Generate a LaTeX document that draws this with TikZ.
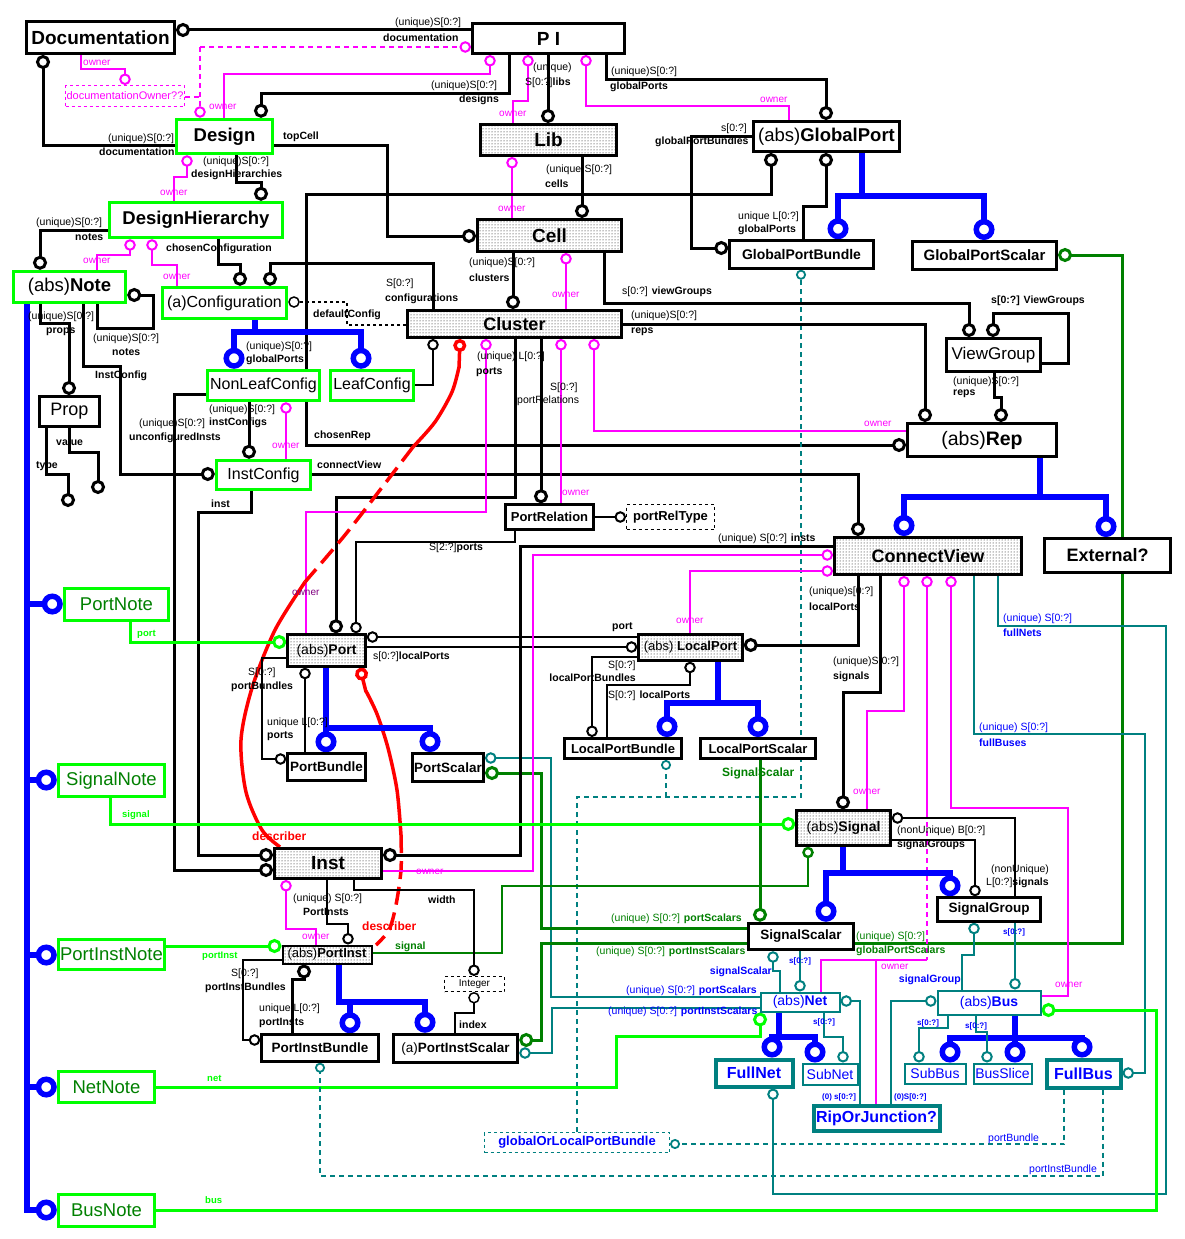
\documentclass[tikz,border=0pt]{standalone}
\usepackage{fontspec}
\setmainfont{Liberation Sans}
\usetikzlibrary{arrows.meta,patterns,backgrounds}
\definecolor{lgreen}{RGB}{0,255,0}
\definecolor{dgreen}{RGB}{0,128,0}
\definecolor{teal2}{RGB}{0,128,128}
\definecolor{purp}{RGB}{128,0,128}
\definecolor{mag}{RGB}{255,0,255}
\definecolor{blu}{RGB}{0,0,255}
\definecolor{rdd}{RGB}{255,0,0}
\def\fs#1{\fontsize{#1}{#1}\selectfont}
\newcommand\bx[7]{\node[#2,minimum width=#5pt-#3pt-3pt,minimum height=#6pt-#4pt-3pt] (#1) at ({(#3+#5)/2},{(#4+#6)/2}) {#7};}
\newcount\labn
\newcommand\lb[4][]{\global\advance\labn by 1 \node[lab,#1] (lb\the\labn) at (#2,#3) {#4};}
\tikzset{
 bxs/.style={draw,line width=3pt,inner sep=0pt,fill=white},
 gbx/.style={bxs,draw=lgreen,line width=3.5pt},
 dbx/.style={bxs,preaction={fill=white},pattern=dots},
 nbx/.style={gbx,text=dgreen,font=\fs{18.5}},
 tbx/.style={bxs,draw=teal2,line width=2pt,text=blu,font=\fs{14}},
 tbb/.style={bxs,draw=teal2,line width=4pt,text=blu,font=\bfseries\fs{16}},
 lab/.style={inner sep=0pt,anchor=west,font=\fs{10.5}},
 lbm/.style={text=mag,font=\fs{10}},
 lbb/.style={text=blu},
 lbd/.style={text=dgreen},
 lbg/.style={text=lgreen,font=\bfseries\fs{9.5}},
 lbr/.style={text=rdd,font=\bfseries\fs{12}},
 lbs/.style={text=blu,font=\bfseries\fs{8}},
 bk/.style={line width=3pt},
 bt/.style={line width=2pt},
 mg/.style={mag,line width=2pt},
 mgd/.style={mg,dash pattern=on 5pt off 4pt},
 lg/.style={lgreen,line width=3pt},
 dg/.style={dgreen,line width=3pt},
 tl/.style={teal2,line width=2pt},
 tld/.style={teal2,line width=1.2pt,dash pattern=on 5pt off 4pt},
 bl/.style={blu,line width=5.5pt},
 blr/.style={bl,line cap=rect},
 rd/.style={rdd,line width=3.5pt},
 ec/.style={-{Circle[open,length=14pt]}},
 es/.style={-{Circle[open,length=11.5pt]}},
 eb/.style={-{Circle[open,length=21pt]}},
 ts/.style={-{Circle[open,length=10pt,line width=1.8pt]}}
}
\begin{document}
\begin{tikzpicture}[x=1pt,y=-1pt,line join=miter]
\useasboundingbox (0,0) rectangle (1184,1239);
\bx{doc}{bxs,font=\bfseries\fs{19}}{25}{20}{176}{55}{Documentation}
\bx{pi}{bxs,font=\bfseries\fs{19}}{471}{22}{626}{55}{P I}
\bx{des}{gbx,font=\bfseries\fs{18.5}}{175}{118}{274}{155}{Design}
\bx{dh}{gbx,font=\bfseries\fs{18.5}}{108}{201}{284}{239}{DesignHierarchy}
\bx{note}{gbx,font=\fs{18.5}}{12}{270}{127}{304}{(abs)\textbf{Note}}
\bx{conf}{gbx,font=\fs{16}}{161}{286}{288}{320}{(a)Configuration}
\bx{lib}{dbx,font=\bfseries\fs{19}}{479}{123}{618}{157}{Lib}
\bx{cell}{dbx,font=\bfseries\fs{19}}{476}{218}{623}{253}{Cell}
\bx{clus}{dbx,font=\bfseries\fs{18}}{406}{309}{623}{339}{Cluster}
\bx{gp}{bxs,font=\fs{18.5}}{752}{120}{901}{153}{(abs)\textbf{GlobalPort}}
\bx{gpb}{bxs,line width=2.5pt,font=\bfseries\fs{14}}{728}{239}{875}{270}{GlobalPortBundle}
\bx{gps}{bxs,font=\bfseries\fs{15}}{911}{240}{1058}{271}{GlobalPortScalar}
\bx{vg}{bxs,font=\fs{17}}{945}{337}{1042}{373}{ViewGroup}
\bx{nlc}{gbx,font=\fs{16}}{206}{369}{321}{402}{NonLeafConfig}
\bx{lc}{gbx,font=\fs{16}}{329}{369}{415}{402}{LeafConfig}
\bx{prop}{bxs,font=\fs{18}}{38}{395}{101}{428}{Prop}
\bx{ic}{gbx,font=\fs{16}}{215}{459}{312}{491}{InstConfig}
\bx{rep}{bxs,font=\fs{19.5}}{906}{422}{1058}{458}{(abs)\textbf{Rep}}
\bx{prel}{bxs,line width=2.5pt,font=\bfseries\fs{13}}{504}{503}{595}{531}{PortRelation}
\bx{prt}{bxs,line width=1pt,dashed,font=\bfseries\fs{13}}{625}{503}{716}{531}{portRelType}
\bx{cv}{dbx,font=\bfseries\fs{18}}{833}{536}{1023}{576}{ConnectView}
\bx{ext}{bxs,font=\bfseries\fs{18}}{1043}{537}{1172}{574}{External?}
\bx{port}{dbx,line width=2.5pt,font=\fs{14}}{286}{633}{367}{668}{(abs)\textbf{Port}}
\bx{lport}{dbx,line width=2.5pt,font=\fs{13}}{637}{633}{744}{662}{(abs) \textbf{LocalPort}}
\bx{pbun}{bxs,line width=2.5pt,font=\bfseries\fs{13.5}}{286}{752}{367}{782}{PortBundle}
\bx{pscal}{bxs,font=\bfseries\fs{13.5}}{411}{752}{485}{783}{PortScalar}
\bx{lpbun}{bxs,font=\bfseries\fs{13}}{563}{737}{683}{760}{LocalPortBundle}
\bx{lpscal}{bxs,font=\bfseries\fs{13}}{699}{737}{817}{760}{LocalPortScalar}
\bx{sig}{dbx,line width=2.5pt,font=\fs{14}}{795}{809}{892}{847}{(abs)\textbf{Signal}}
\bx{inst}{dbx,font=\bfseries\fs{19}}{273}{847}{383}{880}{Inst}
\bx{pinst}{dbx,line width=2pt,font=\fs{13}}{281}{944}{373}{965}{(abs)\textbf{PortInst}}
\bx{intg}{bxs,line width=1pt,dashed,font=\fs{10}}{443}{975}{506}{993}{Integer}
\bx{pibun}{bxs,line width=2.5pt,font=\bfseries\fs{13.5}}{260}{1033}{380}{1063}{PortInstBundle}
\bx{piscal}{bxs,line width=3.5pt,font=\fs{13.5}}{392}{1033}{519}{1064}{(a)\textbf{PortInstScalar}}
\bx{sscal}{bxs,line width=3.5pt,font=\bfseries\fs{13.5}}{747}{922}{855}{951}{SignalScalar}
\bx{sgrp}{bxs,line width=2.5pt,font=\bfseries\fs{13.5}}{936}{896}{1042}{923}{SignalGroup}
\bx{net}{tbx}{759}{991}{841}{1013}{(abs)\textbf{Net}}
\bx{bus}{tbx}{936}{989}{1042}{1016}{(abs)\textbf{Bus}}
\bx{fnet}{tbb}{714}{1058}{794}{1088}{FullNet}
\bx{snet}{tbx}{801}{1062}{859}{1086}{SubNet}
\bx{rj}{tbb}{812}{1104}{941}{1132}{RipOrJunction?}
\bx{sbus}{tbx}{903}{1062}{967}{1085}{SubBus}
\bx{bsl}{tbx}{972}{1062}{1033}{1085}{BusSlice}
\bx{fbus}{tbb}{1045}{1058}{1122}{1089}{FullBus}
\bx{glpb}{tbx,line width=1pt,dashed,font=\bfseries\fs{13}}{483}{1131}{671}{1154}{globalOrLocalPortBundle}
\bx{dowr}{bxs,draw=mag,line width=1pt,dashed,text=mag,font=\fs{11}}{64}{84}{186}{108}{documentationOwner??}
\bx{pnote}{nbx}{63}{587}{170}{622}{PortNote}
\bx{snote}{nbx}{57}{763}{166}{798}{SignalNote}
\bx{pinote}{nbx}{57}{938}{166}{971}{PortInstNote}
\bx{nnote}{nbx}{57}{1070}{156}{1104}{NetNote}
\bx{bnote}{nbx}{57}{1193}{156}{1228}{BusNote}
\begin{pgfonlayer}{background}
\fill[white] (0,0) rectangle (1184,1239);
\draw[bk,ec] (pi.west |- 0,30) -- (doc.east |- 0,30);
\draw[bk,ec] (des.west |- 0,145) -| (doc.south -| 43,0);
\draw[mg,es] (doc.south -| 81,0) |- (125,69) -- (dowr.north -| 125,0);
\draw[mgd] (dowr.east |- 0,97) -- (200,97);
\draw[mgd,es] (200,47) -- (des.north -| 200,0);
\draw[mgd,es] (200,47) -- (pi.west |- 0,47);
\draw[mg,es] (des.north -| 224,0) |- (490,74) -- (pi.south -| 490,0);
\draw[bk,ec] (pi.south -| 509,0) |- (261,93) -- (des.north -| 261,0);
\draw[bk,ec] (pi.south -| 548,0) -- (lib.north -| 548,0);
\draw[mg,es] (lib.north -| 513,0) |- (528,101) -- (pi.south -| 528,0);
\draw[bk,ec] (pi.south -| 606,0) |- (826,79) -- (gp.north -| 826,0);
\draw[mg,es] (gp.north -| 789,0) |- (586,106) -- (pi.south -| 586,0);
\draw[bk,ec] (des.east |- 0,145) -| (387,236) -- (cell.west |- 0,236);
\draw[bk,ec] (des.south -| 236,0) |- (261,182) -- (dh.north -| 261,0);
\draw[mg,es] (dh.north -| 174,0) |- (187,177) -- (des.south -| 187,0);
\draw[bk,ec] (lib.south -| 582,0) -- (cell.north -| 582,0);
\draw[mg,es] (cell.north -| 512,0) -- (lib.south -| 512,0);
\draw[bk,ec] (nlc.north -| 306,0) |- (771,194) -- (gp.south -| 771,0);
\draw[bk,ec] (nlc.south -| 306,0) |- (rep.west |- 0,445);
\draw[bk,ec] (gp.west |- 0,136) -| (691,248) -- (gpb.west |- 0,248);
\draw[bk,ec] (gpb.north -| 803,0) |- (826,206) -- (gp.south -| 826,0);
\draw[blr] (gp.south -| 862,0) -- (862,196); \draw[blr] (838,196) -- (984,196);
\draw[bl,eb] (838,196) -- (gpb.north -| 838,0);
\draw[bl,eb] (984,196) -- (gps.north -| 984,0);
\draw[dg,ec] (sscal.east |- 0,943) -| (1122,255) -- (gps.east |- 0,255);
\draw[tld,ts] (glpb.north -| 577,0) |- (801,797) -- (gpb.south -| 801,0);
\draw[tld,ts] (666,797) -- (lpbun.south -| 666,0);
\draw[bk,ec] (cell.south -| 513,0) -- (clus.north -| 513,0);
\draw[mg,es] (clus.north -| 566,0) -- (cell.south -| 566,0);
\draw[bk,ec] (cell.south -| 604,0) |- (969,303) -- (vg.north -| 969,0);
\draw[bk,ec] (vg.east |- 0,363) -| (1068,313) -| (vg.north -| 993,0);
\draw[bk,ec] (vg.south -| 994,0) |- (1001,397) -- (rep.north -| 1001,0);
\draw[bk,ec] (clus.east |- 0,324) -| (rep.north -| 925,0);
\draw[mg,es] (rep.west |- 0,431) -| (clus.south -| 594,0);
\draw[bk,ec] (dh.south -| 218,0) |- (240,264) -- (conf.north -| 240,0);
\draw[mg,es] (note.north -| 97,0) |- (130,255) -- (dh.south -| 130,0);
\draw[mg,es] (conf.north -| 177,0) |- (152,265) -- (dh.south -| 152,0);
\draw[bk,ec] (dh.west |- 0,230) -| (note.north -| 40,0);
\draw[bk,ec] (clus.north -| 433,0) |- (270,263) -- (conf.north -| 270,0);
\draw[line width=1.5pt,dashed,es] (clus.west |- 0,325) -| (347,302) -- (conf.east |- 0,302);
\draw[blr] (conf.south -| 255,0) -- (255,332); \draw[blr] (234,332) -- (361,332);
\draw[bl,eb] (234,332) -- (nlc.north -| 234,0);
\draw[bl,eb] (361,332) -- (lc.north -| 361,0);
\draw[bk,ec] (note.south -| 97,0) |- (153,328) |- (note.east |- 0,295);
\draw[bk,ec] (note.south -| 40,0) |- (69,323) -- (prop.north -| 69,0);
\draw[bk,ec] (note.south -| 83,0) |- (120,366) |- (ic.west |- 0,474);
\draw[bk,ec] (prop.south -| 69,0) |- (98,452) -- (98,494);
\draw[bk,ec] (prop.south -| 46,0) |- (68,474) -- (68,507);
\draw[bt,es] (lc.east |- 0,385) -| (clus.south -| 433,0);
\draw[bk,ec] (nlc.south -| 249,0) -- (ic.north -| 249,0);
\draw[mg,es] (ic.north -| 286,0) -- (nlc.south -| 286,0);
\draw[bk,ec] (nlc.west |- 0,394) -| (174,870) -- (inst.west |- 0,870);
\draw[bk,ec] (ic.south -| 251,0) |- (198,512) |- (inst.west |- 0,855);
\draw[bk,ec] (ic.east |- 0,474) -| (cv.north -| 858,0);
\draw[bk,ec] (clus.south -| 515,0) |- (336,497) -- (port.north -| 336,0);
\draw[bk,ec] (clus.south -| 541,0) -- (prel.north -| 541,0);
\draw[mg,es] (port.north -| 306,0) |- (486,512) -- (clus.south -| 486,0);
\draw[mg,es] (prel.north -| 561,0) -- (clus.south -| 561,0);
\draw[rd,-{Circle[open,length=13pt]}] (459,368) -- (clus.south -| 460,0);
\draw[rd] plot[smooth] coordinates {(459,367) (452,392) (435,422) (413,447)};
\draw[rd,dash pattern=on 18pt off 8pt] plot[smooth] coordinates {(413,447) (380,490) (345,535) (305,582)};
\draw[rd] plot[smooth] coordinates {(305,582) (275,630) (252,688) (241,740) (246,792) (262,830) (280,847)};
\draw[rd,-{Circle[open,length=13pt]}] (366,692) -- (port.south -| 360,0);
\draw[rd] plot[smooth] coordinates {(366,691) (377,714) (388,748) (397,790) (401,835)};
\draw[rd,dash pattern=on 18pt off 8pt] plot[smooth] coordinates {(401,835) (401,870) (396,905) (389,930) (376,945)};
\draw[bt,es] (prel.south -| 515,0) |- (356,542) -- (port.north -| 356,0);
\draw[bt,es] (prel.east) -- (prt.west);
\draw[bt,es] (lport.west |- 0,637) -- (port.east |- 0,637);
\draw[bt,es] (port.east |- 0,647) -- (lport.west |- 0,647);
\draw[bk,ec] (cv.south -| 858,0) |- (lport.east |- 0,645);
\draw[mg,es] (lport.north -| 690,0) |- (cv.west |- 0,571);
\draw[bt,es] (lport.west |- 0,657) -| (lpbun.north -| 592,0);
\draw[bt,es] (lpbun.north -| 607,0) |- (690,685) -- (lport.south -| 690,0);
\draw[blr] (lport.south -| 718,0) -- (718,703); \draw[blr] (667,703) -- (758,703);
\draw[bl,eb] (667,703) -- (lpbun.north -| 667,0);
\draw[bl,eb] (758,703) -- (lpscal.north -| 758,0);
\draw[dg,ec] (lpscal.south -| 760,0) -- (sscal.north -| 760,0);
\draw[blr] (port.south -| 326,0) -- (326,728); \draw[blr] (326,728) -- (430,728);
\draw[bl,eb] (326,728) -- (pbun.north -| 326,0);
\draw[bl,eb] (430,728) -- (pscal.north -| 430,0);
\draw[bt,es] (pbun.north -| 305,0) -- (port.south -| 305,0);
\draw[bt,es] (port.west |- 0,658) -| (262,759) -- (pbun.west |- 0,759);
\draw[lg,ec] (pnote.south -| 130,0) |- (port.west |- 0,642);
\draw[tl,es] (net.west |- 0,997) -| (551,758) -- (pscal.east |- 0,758);
\draw[dg,ec] (sscal.west |- 0,928) -| (541,773) -- (pscal.east |- 0,773);
\draw[dg,ec] (sscal.west |- 0,943) -| (541,1040) -- (piscal.east |- 0,1040);
\draw[tl,es] (net.west |- 0,1008) -| (552,1053) -- (piscal.east |- 0,1053);
\draw[bk,ec] (cv.west |- 0,546) -| (520,855) -- (inst.east |- 0,855);
\draw[mg,es] (inst.east |- 0,871) -| (533,555) -- (cv.west |- 0,555);
\draw[bk,ec] (cv.south -| 880,0) |- (843,692) -- (sig.north -| 843,0);
\draw[mg,es] (sig.north -| 867,0) |- (904,711) -- (cv.south -| 904,0);
\draw[mg,es] (927,813) -- (cv.south -| 927,0);
\draw[mgd] (927,813) -- (927,960);
\draw[mg] (927,960) -| (net.north -| 821,0);
\draw[mg] (876,960) -- (rj.north -| 876,0);
\draw[mg,es] (bus.east |- 0,996) -| (1068,808) -| (cv.south -| 951,0);
\draw[tl,es] (cv.south -| 998,0) |- (1166,626) |- (773,1194) -- (fnet.south -| 773,0);
\draw[tl,es] (cv.south -| 974,0) |- (1145,734) |- (fbus.east |- 0,1073);
\draw[blr] (rep.south -| 1040,0) -- (1040,497); \draw[blr] (904,497) -- (1106,497);
\draw[bl,eb] (904,497) -- (cv.north -| 904,0);
\draw[bl,eb] (1106,497) -- (ext.north -| 1106,0);
\draw[bt,es] (sgrp.north -| 1015,0) |- (sig.east |- 0,818);
\draw[bt,es] (sig.east |- 0,840) -| (sgrp.north -| 975,0);
\draw[blr] (sig.south -| 843,0) -- (843,873); \draw[blr] (826,873) -- (950,873);
\draw[bl,eb] (826,873) -- (sscal.north -| 826,0);
\draw[bl,eb] (950,873) -- (sgrp.north -| 950,0);
\draw[lg,ec] (snote.south -| 110,0) |- (sig.west |- 0,824);
\draw[dg,line width=2.5pt,es] (pinst.east |- 0,953) -| (502,886) -| (sig.south -| 808,0);
\draw[tl,es] (net.north -| 780,0) |- (773,971) -- (sscal.south -| 773,0);
\draw[tl,es] (sscal.south -| 800,0) -- (net.north -| 800,0);
\draw[tl,es] (bus.north -| 962,0) |- (974,955) -- (sgrp.south -| 974,0);
\draw[tl,es] (sgrp.south -| 1015,0) -- (bus.north -| 1015,0);
\draw[blr] (net.south -| 779,0) -- (779,1037); \draw[blr] (772,1037) -- (815,1037);
\draw[bl,eb] (772,1037) -- (fnet.north -| 772,0);
\draw[bl,eb] (815,1037) -- (snet.north -| 815,0);
\draw[lg,ec] (nnote.east |- 0,1087) -| (616,1036) -| (net.south -| 760,0);
\draw[tl,es] (net.south -| 824,0) |- (843,1037) -- (snet.north -| 843,0);
\draw[tl,es] (rj.north -| 860,0) |- (net.east |- 0,1001);
\draw[blr] (bus.south -| 1015,0) -- (1015,1038); \draw[blr] (950,1038) -- (1082,1038);
\draw[bl,eb] (950,1038) -- (sbus.north -| 950,0);
\draw[bl,eb] (1015,1038) -- (bsl.north -| 1015,0);
\draw[bl,eb] (1082,1038) -- (fbus.north -| 1082,0);
\draw[tl,es] (rj.north -| 891,0) |- (bus.west |- 0,1001);
\draw[tl,es] (bus.south -| 948,0) |- (919,1028) -- (sbus.north -| 919,0);
\draw[tl,es] (bus.south -| 976,0) |- (987,1032) -- (bsl.north -| 987,0);
\draw[lg,ec] (bnote.east |- 0,1210) -| (1156,1010) -- (bus.east |- 0,1010);
\draw[tld,ts] (fbus.south -| 1064,0) |- (glpb.east |- 0,1144);
\draw[tld,ts] (fbus.south -| 1103,0) |- (320,1176) -- (pibun.south -| 320,0);
\draw[bt,es] (inst.south -| 327,0) |- (348,924) -- (pinst.north -| 348,0);
\draw[mg,es] (pinst.north -| 316,0) |- (286,929) -- (inst.south -| 286,0);
\draw[bt,es] (inst.south -| 354,0) |- (474,890) -- (intg.north -| 474,0);
\draw[line width=1.5pt,es] (piscal.north -| 455,0) |- (474,1013) -- (intg.south -| 474,0);
\draw[lg,ec] (pinote.east |- 0,946) -- (pinst.west |- 0,946);
\draw[blr] (pinst.south -| 339,0) -- (339,1002); \draw[blr] (339,1002) -- (425,1002);
\draw[bl,eb] (350,1002) -- (pibun.north -| 350,0);
\draw[bl,eb] (425,1002) -- (piscal.north -| 425,0);
\draw[bk,ec] (pibun.north -| 292,0) |- (304,979) -- (pinst.south -| 304,0);
\draw[bt,es] (pinst.west |- 0,960) -| (243,1040) -- (pibun.west |- 0,1040);
\draw[blr] (note.south -| 27,0) -- (27,1210);
\draw[bl,eb] (27,604) -- (pnote.west |- 0,604);
\draw[bl,eb] (27,780) -- (snote.west |- 0,780);
\draw[bl,eb] (27,955) -- (pinote.west |- 0,955);
\draw[bl,eb] (27,1087) -- (nnote.west |- 0,1087);
\draw[bl,eb] (27,1210) -- (bnote.west |- 0,1210);
\end{pgfonlayer}
\lb{395}{23}{(unique)S[0:?]}
\lb{383}{38}{\textbf{documentation}}
\lb{108}{139}{(unique)S[0:?]}
\lb{99}{152}{\textbf{documentation}}
\lb{431}{86}{(unique)S[0:?]}
\lb{459}{100}{\textbf{designs}}
\lb{533}{68}{(unique)}
\lb{525}{83}{S[0:?]\textbf{libs}}
\lb{611}{72}{(unique)S[0:?]}
\lb{610}{87}{\textbf{globalPorts}}
\lb{283}{137}{\textbf{topCell}}
\lb{203}{162}{(unique)S[0:?]}
\lb{191}{175}{\textbf{designHierarchies}}
\lb{546}{170}{(unique)S[0:?]}
\lb{545}{184}{\textbf{cells}}
\lb{721}{129}{s[0:?]}
\lb{655}{142}{\textbf{globalPortBundles}}
\lb{738}{217}{unique L[0:?]}
\lb{738}{230}{\textbf{globalPorts}}
\lb{469}{263}{(unique)S[0:?]}
\lb{469}{278}{\textbf{clusters}}
\lb{386}{284}{S[0:?]}
\lb{385}{299}{\textbf{configurations}}
\lb{622}{292}{s[0:?] \textbf{viewGroups}}
\lb{631}{316}{(unique)S[0:?]}
\lb{631}{332}{\textbf{reps}}
\lb{991}{301}{\textbf{s[0:?] ViewGroups}}
\lb{953}{382}{(unique)S[0:?]}
\lb{953}{394}{\textbf{reps}}
\lb{36}{223}{(unique)S[0:?]}
\lb{75}{237}{\textbf{notes}}
\lb{166}{249}{\textbf{chosenConfiguration}}
\lb{313}{315}{\textbf{defaultConfig}}
\lb{28}{317}{(unique)S[0:?]}
\lb{46}{332}{\textbf{props}}
\lb{93}{339}{(unique)S[0:?]}
\lb{112}{352}{\textbf{notes}}
\lb{246}{347}{(unique)S[0:?]}
\lb{246}{360}{\textbf{globalPorts}}
\lb{95}{376}{\textbf{InstConfig}}
\lb{209}{410}{(unique)S[0:?]}
\lb{209}{423}{\textbf{instConfigs}}
\lb{139}{424}{(unique)S[0:?]}
\lb{129}{438}{\textbf{unconfiguredInsts}}
\lb{56}{442}{\textbf{value}}
\lb{36}{466}{\textbf{type}}
\lb{314}{436}{\textbf{chosenRep}}
\lb{317}{465}{\textbf{connectView}}
\lb{211}{504}{\textbf{inst}}
\lb{477}{357}{(unique) L[0:?]}
\lb{476}{372}{\textbf{ports}}
\lb{550}{388}{S[0:?]}
\lb{517}{401}{portRelations}
\lb{429}{548}{S[2:?]\textbf{ports}}
\lb{718}{539}{(unique) S[0:?] \textbf{insts}}
\lb{612}{627}{\textbf{port}}
\lb{373}{657}{s[0:?]\textbf{localPorts}}
\lb{809}{592}{(unique)s[0:?]}
\lb{809}{607}{\textbf{localPorts}}
\lb{608}{666}{S[0:?]}
\lb[anchor=east]{636}{678}{\textbf{localPortBundles}}
\lb{608}{696}{S[0:?] \textbf{localPorts}}
\lb{833}{662}{(unique)S[0:?]}
\lb{833}{677}{\textbf{signals}}
\lb{248}{673}{S[0:?]}
\lb{231}{687}{\textbf{portBundles}}
\lb{267}{723}{unique L[0:?]}
\lb{267}{736}{\textbf{ports}}
\lb{897}{831}{(nonUnique) B[0:?]}
\lb{897}{845}{\textbf{signalGroups}}
\lb{991}{870}{(nonUnique)}
\lb{986}{883}{L[0:?]\textbf{signals}}
\lb{293}{899}{(unique) S[0:?]}
\lb{303}{912}{\textbf{PortInsts}}
\lb{428}{900}{\textbf{width}}
\lb{231}{974}{S[0:?]}
\lb{205}{988}{\textbf{portInstBundles}}
\lb{259}{1009}{unique L[0:?]}
\lb{259}{1023}{\textbf{portInsts}}
\lb{459}{1025}{\textbf{index}}
\lb[lbr]{252}{836}{describer}
\lb[lbr]{362}{926}{describer}
\lb[lbd]{395}{947}{\textbf{signal}}
\lb[lbd]{611}{919}{(unique) S[0:?] \textbf{portScalars}}
\lb[lbd]{596}{952}{(unique) S[0:?] \textbf{portInstScalars}}
\lb[lbd]{856}{937}{(unique) S[0:?]}
\lb[lbd]{856}{951}{\textbf{globalPortScalars}}
\lb[lbd,font=\bfseries\fs{12}]{722}{773}{SignalScalar}
\lb[lbb,anchor=east]{772}{972}{\textbf{signalScalar}}
\lb[lbs]{789}{961}{s[0:?]}
\lb[lbb]{626}{991}{(unique) S[0:?] \textbf{portScalars}}
\lb[lbb]{608}{1012}{(unique) S[0:?] \textbf{portInstScalars}}
\lb[lbs]{813}{1022}{s[0:?]}
\lb[lbs]{822}{1097}{(0) s[0:?]}
\lb[lbs]{894}{1097}{(0)S[0:?]}
\lb[lbb,anchor=east]{961}{980}{\textbf{signalGroup}}
\lb[lbs]{1003}{932}{s[0:?]}
\lb[lbs]{917}{1023}{s[0:?]}
\lb[lbs]{965}{1026}{s[0:?]}
\lb[lbb]{988}{1139}{portBundle}
\lb[lbb]{1029}{1170}{portInstBundle}
\lb[lbb]{1003}{619}{(unique) S[0:?]}
\lb[lbb]{1003}{633}{\textbf{fullNets}}
\lb[lbb]{979}{728}{(unique) S[0:?]}
\lb[lbb]{979}{743}{\textbf{fullBuses}}
\lb[lbg]{137}{634}{port}
\lb[lbg]{122}{815}{signal}
\lb[lbg]{202}{956}{portInst}
\lb[lbg]{207}{1078}{net}
\lb[lbg]{205}{1200}{bus}
\foreach \ox/\oy in {83/63,209/107,499/114,760/100,160/193,498/209,83/261,163/277,552/295,864/424,272/446,562/493,676/621,853/792,416/872,302/937,881/967,1055/985}
 \lb[lbm]{\ox}{\oy}{owner};
\lb[lbm,text=purp]{292}{593}{owner}
\end{tikzpicture}
\end{document}
